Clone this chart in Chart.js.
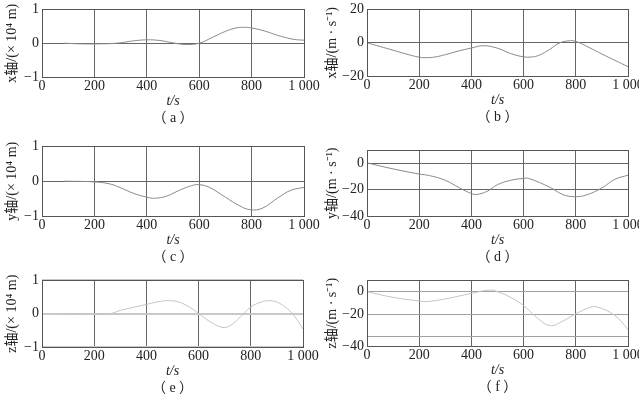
<!DOCTYPE html>
<html>
<head>
<meta charset="utf-8">
<script src="https://cdn.jsdelivr.net/npm/chart.js@4.4.1/dist/chart.umd.min.js"></script>
<style>
  body { margin: 0; background: #fff; width: 639px; height: 397px; overflow: hidden; position: relative; }
  canvas { position: absolute; }
</style>
</head>
<body>
<canvas id="ca"></canvas>
<canvas id="cb"></canvas>
<canvas id="cc"></canvas>
<canvas id="cd"></canvas>
<canvas id="ce"></canvas>
<canvas id="cf"></canvas>
<script>
// shared x axis
var xTicks = [0, 200, 400, 600, 800, 1000];

// (a) x position, x 10^4 m
var tA = [85, 150, 210, 285, 350, 400, 450, 500, 550, 600, 650, 700, 740, 770, 800, 850, 900, 950, 975, 1000];
var vA = [0, -0.02, -0.02, 0, 0.07, 0.1, 0.08, 0.01, -0.04, 0, 0.17, 0.35, 0.45, 0.47, 0.45, 0.36, 0.23, 0.13, 0.1, 0.09];
var yTicksA = [-1, 0, 1];

// (b) x velocity, m/s
var tB = [0, 50, 100, 150, 200, 230, 260, 300, 350, 400, 445, 500, 550, 600, 630, 660, 700, 740, 780, 800, 850, 900, 950, 1000];
var vB = [0, -2.3, -4.5, -6.8, -8.7, -9, -8.6, -7.2, -5, -3.2, -1.8, -3.3, -6.5, -8.5, -8.6, -7.5, -4, 0, 1.2, 0.8, -2.8, -6.8, -10.6, -14.4];
var yTicksB = [-20, 0, 20];

// (c) y position
var tC = [85, 200, 260, 300, 350, 400, 430, 475, 525, 570, 600, 640, 700, 755, 795, 840, 900, 950, 1000];
var vC = [0, -0.02, -0.08, -0.19, -0.35, -0.46, -0.49, -0.43, -0.26, -0.13, -0.1, -0.18, -0.46, -0.71, -0.82, -0.78, -0.48, -0.26, -0.18];
var yTicksC = [-1, 0, 1];

// (d) y velocity
var tD = [0, 100, 200, 240, 300, 355, 400, 420, 460, 500, 550, 600, 620, 700, 750, 795, 840, 900, 950, 1000];
var vD = [0.5, -4.1, -8, -9.2, -12.8, -18.6, -22.9, -23.6, -21.2, -16.1, -12.8, -11.3, -11.4, -18, -23.6, -25.3, -24, -18.6, -12, -8.9];
var yTicksD = [-40, -20, 0];

// (e) z position
var tE = [80, 150, 200, 260, 300, 350, 400, 440, 475, 520, 560, 600, 640, 690, 720, 760, 800, 840, 870, 900, 940, 970, 1000];
var vE = [0, 0, 0, 0, 0.1, 0.19, 0.28, 0.35, 0.39, 0.36, 0.22, 0.01, -0.22, -0.41, -0.36, -0.1, 0.2, 0.35, 0.39, 0.35, 0.15, -0.1, -0.46];
var yTicksE = [-1, 0, 1];

// (f) z velocity (label -40 sits on the lower frame in the original)
var tF = [0, 100, 200, 230, 300, 400, 470, 500, 550, 600, 650, 700, 750, 800, 850, 880, 950, 1000];
var vF = [0, -5, -8.2, -8.7, -6.4, -1.5, 1.5, 0, -5, -12.2, -22.7, -30, -26, -19.5, -14.3, -13.4, -21, -33.5];
var yTicksF = [-48, -40, -20, 0];
var yLabelsF = ['-40', '', '-20', '0'];

var FONT = "'Liberation Serif', 'Noto Sans CJK SC', serif";

var framePlugin = {
  id: 'frame',
  afterDraw: function(chart) {
    var a = chart.chartArea, c = chart.ctx;
    c.save();
    c.strokeStyle = '#555';
    c.lineWidth = 1;
    c.strokeRect(Math.round(a.left) + 0.5, Math.round(a.top) + 0.5,
      Math.round(a.right - a.left), Math.round(a.bottom - a.top));
    c.restore();
  }
};

function minus(s) { return String(s).replace('-', '\u2212'); }

function makeChart(id, p) {
  var cv = document.getElementById(id);
  var cw = 340;
  var ch = p.bottom - p.top + 60;
  cv.width = cw; cv.height = ch;
  cv.style.left = p.cx + 'px';
  cv.style.top = (p.top - 10) + 'px';
  var yw = p.left - p.cx - 3;
  var pr = cw - (p.right - p.cx);

  return new Chart(cv.getContext('2d'), {
    type: 'line',
    data: {
      datasets: [{
        data: p.t.map(function(t, i) { return { x: t, y: p.v[i] }; }),
        borderColor: p.lineColor,
        borderWidth: 1,
        pointRadius: 0,
        tension: 0.4,
        fill: false
      }]
    },
    options: {
      responsive: false,
      animation: false,
      events: [],
      layout: { padding: { left: 3, right: pr, top: 10, bottom: 0 } },
      plugins: {
        legend: { display: false },
        tooltip: { enabled: false },
        title: {
          display: true,
          position: 'bottom',
          fullSize: false,
          text: p.caption,
          color: '#222',
          font: { family: FONT, size: 14, weight: 'normal', lineHeight: '18px' },
          padding: 0
        }
      },
      scales: {
        x: {
          type: 'linear',
          min: 0, max: 1000,
          afterBuildTicks: function(s) { s.ticks = xTicks.map(function(v) { return { value: v }; }); },
          afterFit: function(s) { s.height = 32; },
          ticks: {
            padding: 1,
            maxRotation: 0,
            color: '#222',
            font: { family: FONT, size: 14 },
            callback: function(v) { return v === 1000 ? '1 000' : String(v); }
          },
          grid: { color: '#666', drawTicks: false },
          border: { display: false },
          title: {
            display: true,
            text: 't/s',
            color: '#222',
            font: { family: FONT, size: 14, style: 'italic', lineHeight: '16px' },
            padding: 0
          }
        },
        y: {
          min: p.ymin, max: p.ymax,
          afterBuildTicks: function(s) { s.ticks = p.yTicks.map(function(v) { return { value: v }; }); },
          afterFit: function(s) { s.width = yw; },
          ticks: {
            padding: 3,
            color: '#222',
            font: { family: FONT, size: 14 },
            callback: function(v, i) { return minus(p.yLabels ? p.yLabels[i] : v); }
          },
          grid: { color: p.yGridColor, lineWidth: p.yGridWidth || 1, drawTicks: false },
          border: { display: false },
          title: {
            display: true,
            text: p.yTitle,
            color: '#222',
            font: { family: FONT, size: 14, lineHeight: '18px' },
            padding: 0
          }
        }
      }
    },
    plugins: [framePlugin]
  });
}

var posTitle = function(a) { return a + '\u8f74/(\u00d7 10\u2074 m)'; };
var velTitle = function(a) { return a + '\u8f74/(m \u00b7 s\u207b\u00b9)'; };

makeChart('ca', { cx: 0, left: 42, right: 304, top: 8, bottom: 77, t: tA, v: vA, ymin: -1, ymax: 1,
  yTicks: yTicksA, yTitle: posTitle('x'), caption: '\uff08 a \uff09', lineColor: '#8a8a8a', yGridColor: '#666' });
makeChart('cb', { cx: 320, left: 367, right: 628, top: 8, bottom: 76, t: tB, v: vB, ymin: -20, ymax: 20,
  yTicks: yTicksB, yTitle: velTitle('x'), caption: '\uff08 b \uff09', lineColor: '#8a8a8a', yGridColor: '#666' });
makeChart('cc', { cx: 0, left: 42, right: 304, top: 145, bottom: 216, t: tC, v: vC, ymin: -1, ymax: 1,
  yTicks: yTicksC, yTitle: posTitle('y'), caption: '\uff08 c \uff09', lineColor: '#8a8a8a', yGridColor: '#666' });
makeChart('cd', { cx: 320, left: 367, right: 628, top: 149, bottom: 216, t: tD, v: vD, ymin: -40, ymax: 10,
  yTicks: yTicksD, yTitle: velTitle('y'), caption: '\uff08 d \uff09', lineColor: '#8a8a8a', yGridColor: '#666' });
makeChart('ce', { cx: 0, left: 42, right: 303, top: 279, bottom: 347, t: tE, v: vE, ymin: -1, ymax: 1,
  yTicks: yTicksE, yTitle: posTitle('z'), caption: '\uff08 e \uff09', lineColor: '#c4c4c4', yGridColor: '#c8c8c8', yGridWidth: 2 });
makeChart('cf', { cx: 320, left: 367, right: 628, top: 279, bottom: 346, t: tF, v: vF, ymin: -48, ymax: 10,
  yTicks: yTicksF, yLabels: yLabelsF, yTitle: velTitle('z'), caption: '\uff08 f \uff09', lineColor: '#c4c4c4', yGridColor: '#a0a0a0' });
</script>
</body>
</html>
